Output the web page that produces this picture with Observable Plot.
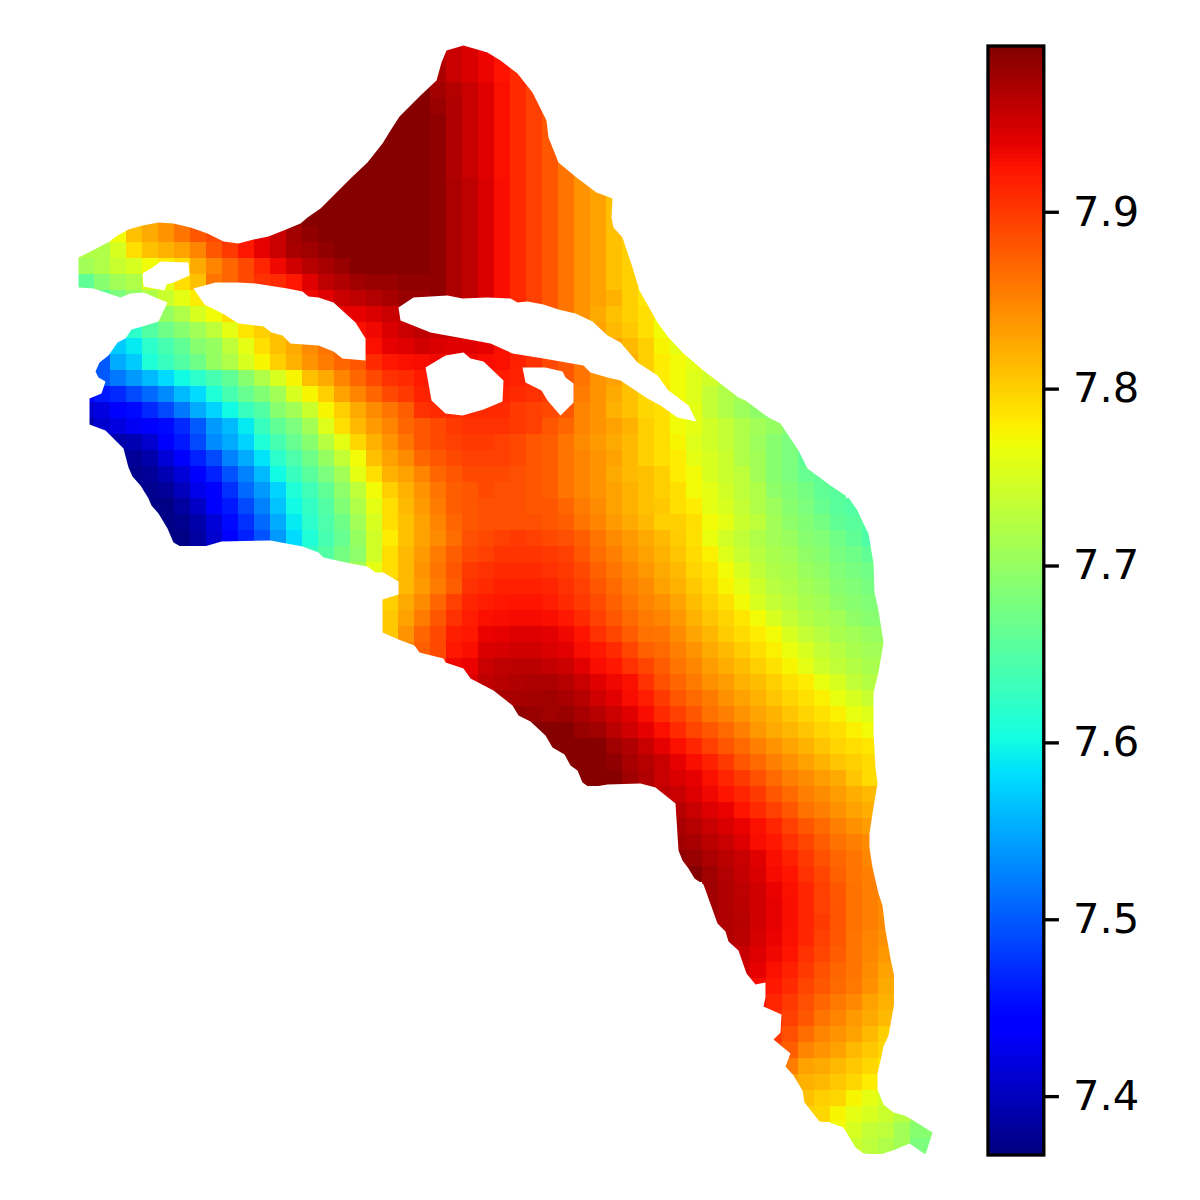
<!DOCTYPE html>
<html>
<head>
<meta charset="utf-8">
<script src="https://cdn.jsdelivr.net/npm/d3@7"></script>
<script src="https://cdn.jsdelivr.net/npm/@observablehq/plot@0.6"></script>
<style>
html,body{margin:0;padding:0;background:#fff}
#chart{display:flex;width:1200px;height:1200px}
#chart svg{display:block;flex:none}
</style>
</head>
<body>
<div id="chart"></div>
<script>
// Colour-bar range and ticks
const valueDomain = [7.367, 7.994];
const barTicks = [7.4, 7.5, 7.6, 7.7, 7.8, 7.9];

// First grid column of each grid row
const rowStart = [22,22,21,20,19,18,17,17,16,15,14,3,2,0,0,0,1,4,2,1,1,1,0,0,0,1,2,3,3,4,5,5,13,16,19,19,19,19,20,22,24,25,26,27,29,30,31,35,37,37,37,37,38,39,39,39,40,41,41,42,42,43,43,43,44,44,45,45,47,48];

// Field values per grid row (hundredths above 7)
const rowValues = [
[96,95.5,94.5,93.5,92.5,91.5],
[96.5,95.5,94.5,93.5,92.5,91,89.5],
[98,97,95.5,94.5,93.5,92.5,91,89,88],
[99,99,97.5,96.5,95.5,94.2,92.7,91,89.5,88],
[99,99,99,98,96.8,95.5,94.2,92.7,91,89.5,88],
[99,99,99,99,98.5,96.8,95.5,94.2,92.7,91,89.5,88,86],
[99,99,99,99,99,98.5,96.8,95.5,94.2,92.7,91,89.5,88,86],
[99,99,99,99,99,98.5,96.8,95.5,94.2,92.7,91,89.5,88,86],
[99,99,99,99,99,99,98.5,96.8,95.5,94.2,92.7,91,89.5,88,86,84],
[99,99,99,99,99,99,99,98.5,97,96,94.5,92.9,91,89.5,88,86,84,83],
[99,99,99,99,99,99,99,99,98.5,97,96,94.5,92.9,91,89.5,88,86,84,83,81],
[81,82.5,84,86,88,89,90,92,94,96,98,99,99,99,99,99,99,99,99,98.5,97,96,94.5,92.9,91,89.5,88,86,84,83,81],
[77,81,82.5,84,86,88,89,90,92,94,95.5,97.5,98.5,99,99,99,99,99,99,99,98.5,97,96,94.5,92.9,91,89.5,88,86,84,83,81,80],
[72,72,75,79,81,82,83,85,88,90,92.2,93.8,95.5,97.2,97.6,98.5,99,99,99,99,99,99,98.5,97,96,94.5,92.9,91,89.5,88,86,84,83,81,80],
[71,72,74,75,77,78,79,82.5,85,87,89,91.3,93.3,95,96.4,97.2,98,99,99,99,99,99,98.5,97,96,94.5,92.9,91,89.5,88,86,84,83,81,80,78],
[66,69,71,72,75,76,79,81,86,87,89,90.5,91,92.2,94.2,96,96.8,97.6,98,98,98.5,98.5,98.5,97,96,94.5,92.9,91,89.5,88,86,84,83,81,80,78],
[66,68,70,72,74,76,78,79,85,88,90,91,92,93.3,94.2,95.5,96,96.6,97.2,98,98,98.5,97,96,94.5,92.9,91,89.5,88,86,84,83,82,80,78.5,77],
[70,70,72,75,77,79,85,88,90,92,93,93.5,93.8,93.8,94.5,95.5,95.5,96,95.5,95.5,94.5,93.5,92.7,91,89,88,86,84,82.5,81,80,79,77],
[60,62,65,67,69,71,73,76,78.5,80,81,83,85,88,90,92.7,93.3,94.5,95.5,96,95.5,95.5,94.5,93.5,92.7,91,89,88,86,84,83,81.5,80.5,79,77,76],
[55,57,59,62,64,66,69,70,73,76,79,81,82.5,84.5,86,87,90,92.7,93.8,94.2,95,94.5,94.2,94.2,93.8,92.7,91.7,90,89,87,85,84,83,81.5,80,77.5,76,75],
[50,55,57,61,63,65,67,70,72,75,77.5,80,82,84,85.5,87,88,91,92.2,92.7,92.9,93.3,93.3,93.3,92.9,92.7,91.6,90.5,89,88,86,84.5,83,82,80,78,77,76],
[50,52,54,56,58,60,62,64,66,69,72,75,77.5,81,82.5,85,87,89,90.5,91,92,92,92,92,92,92,91.5,91,90,88,86,84,83,81,80,78,77,75.5,74.5,73],
[44,46,47,49,51,53,56,58,61,64,66.5,68.5,71,75,77.5,80,83,85,87,89,90,91.5,91.5,91.5,91.5,91.5,91.5,91,90.5,90,88,85.5,84,82.5,81,79.5,78.5,77,75.5,73.5,72,71],
[41,42,44,45,47,49,52,55,57.5,60,63,65,69,71,74,77.5,80,82.5,84.5,86,87.5,90.5,91,91,91,91,91,90,89.5,89,88,85,84,82,81,79.5,79,77,76,73.5,72,70.5,69.5,68.5],
[39,41,42,43,44,45,47,50,54,56,59,63,66,68,71,75.5,79,81.5,83.5,85,87,88,89,90,90.5,90.5,90.5,90,89.5,88,87,85,84,83,82,80,79,77,76,74.5,73.5,72,71,70,69],
[39,39,39.5,41,44,46,49,53,55,57.5,61,64,66.5,69,72.5,76,79.5,82,84,86,88,89,89.5,90,90,89.5,89,88,87.5,86,84.5,83.5,82.5,81.5,80,79,77.5,75.5,74.5,73.5,72,70.5,69,68],
[38,38,39,41.5,43.5,46.5,49,52.5,55,58.5,62,64.5,67,70,73.5,77,81,83,84.5,87,88,89,89.5,89.5,89.5,89,88,87.5,86,85,84,83,81.5,80,79,78,76,75,74,72,71,69,68,66],
[37.5,38,39.5,41.5,44.5,46.5,49.5,52.5,56,60,63,65.5,68,71,76,79,82,83,85,87,88,89,89,89,88.5,88,87.5,86,85,84,82.5,81.5,81,80,78,77,75,74,73,71,69,68,66.5,66],
[37.5,37.5,38,40,42.5,44.5,47.5,51,54,57.5,61,63.5,66,69.5,73,77,80,82,84,86,87.5,88,89,88.5,88.5,88,87.5,86,85,84,83,82,81,80,79,77,76,74.5,73,72,69.5,68.5,67.5,66,65.5],
[37,37,38.5,40.5,43.5,46,49,52.5,56.5,60,62.5,65,68.5,72,76,79,81.5,83.5,85.5,87.5,88,88.5,88.5,88.5,88,88,87,85.5,84.5,83,82,81,80.5,79,78,76,75,73.5,72,70.5,69,68,66.5,65.5,65],
[37,37.5,39,41.5,45,47.5,51,55,59,62,64.5,67,71,75,79,81,83,85,87,88,88.5,88.5,88.5,88.5,88,87.5,86,85,83.5,82.5,81.5,80,80,79,77,76,74,73,71,69.5,68.5,67.5,66,65.5,65],
[37,37,38.5,41,44,46.5,49.5,54,58,61,64,66.5,70,74.5,78,81,83,84.5,86.5,88.5,89,89.5,90,89.5,89,88.5,87.5,86,84.5,83.5,82.5,81.5,80.2,78.8,76.5,74.6,73.3,72,70.9,70.2,69,68.4,67.2,66,64.7],
[61,62.5,65,67.5,69.5,74.5,79,81.5,83.5,85.5,87.5,89,89.5,90.3,90.3,90.3,90,89.5,88,86.5,85.3,84,83,82,80.7,79.2,77.8,75.6,73.8,72.6,71.5,70.9,69.6,69,67.8,67,66],
[69,71,76,79,81.5,84,86,88,90,90.5,91,91,91,90.5,90,89,87.4,86,84.8,83.7,82.5,81.5,79.7,78.7,77,75,73.3,72,71.5,70.2,69.6,68.4,67.8,67.2],
[80,81.5,83.5,85.5,87.5,90.5,91,91.6,91.6,91.6,91.3,90.5,89.5,88,86.7,85.3,84.5,83,82,80.5,79.2,77.5,76,74.3,72.6,72,70.9,70.2,69,68.4,67.8,67.5],
[80,82.5,84.5,87,89.5,91.3,91.9,92.2,92.4,92.4,91.9,91,90,88.8,87.4,86,85,84.2,82.9,81.2,80,78.8,77.1,75,73.5,72.6,71.5,70.9,69.6,69,68.4,68],
[80.5,83,85.5,88,90.5,91.9,92.7,92.9,93,93,92.8,92.2,91,89.5,88,86.7,85.6,85,83.7,82,80.7,79.7,78.4,77,75,73.5,72.4,71.5,70.9,69.6,69,69],
[80.5,84,87,89,91.7,92.2,93.6,93.8,94.3,94.3,94,93.3,92.4,90.5,89.2,87.7,86.2,86,84.5,82.9,81.7,80.2,79.2,78,77,75,73.5,72.6,71.5,70.9,70.2,70],
[85,87.5,89,92.2,92.8,94.5,94.7,95,95,94.5,94,92.9,92.2,91,89.2,87.4,86.7,85.3,84,82.5,81.5,80.2,79,77.8,76.5,75,73.5,72.6,71.5,70.9,71],
[90,93.3,93.6,95.5,96,96.2,96.2,95.7,95.2,94,92.9,92.2,90.5,89.2,87.7,86,84.8,83.4,82.2,81.2,80,78.8,77.5,76,74.3,73.3,72.4,71.5,71.5],
[94.5,96,96.4,96.8,97,97,96.4,95.5,94.2,93.3,92.7,90.5,88.4,87,85.6,84.2,83.4,82,81.2,80,78.8,78,76.3,75,73.3,72.4],
[97,97.2,97.2,97.4,97.6,97.2,96.4,95,94,92.9,91.9,89.9,88,86.7,85.6,84.2,83,82,80.7,79.7,78.8,77.8,76.3,75,73.8],
[98,98.5,98,97.6,98,97.2,96.4,95.2,94.2,92.9,91,89.5,88,86.2,85.3,84,82.9,82,80.7,79.7,78.8,77.8,76.3,75.6],
[99,99,99,99,98,97.6,96.2,95,93.8,92.7,91,89.2,88,86.7,85.3,83.7,82.5,81.7,80.7,79.7,79,77.8,77],
[99,99,99,99,97.6,96.8,95.5,93.8,92.7,91.3,89.5,88,86.7,85.3,84,82.9,82,80.7,79.7,79,78.4],
[99,99,99,98.5,97.2,96.4,95.5,93.8,92.8,91.6,89.9,88,86.7,85.3,84.2,83,82,80.7,80,79.2],
[99,99,99,97.6,96.8,95.5,94.5,93.8,92.7,91.3,89.9,88.4,86.7,85.3,84.5,83.4,82.5,80.7,79.2],
[96,96,95.5,94.3,93.3,92.4,91.3,89.9,88,86.7,85.3,84.5,83.4,82.2,81.5],
[96.4,95.5,94.3,93.6,92.4,91,89.5,88,86.2,85.3,84.2,83,82.2],
[97.2,96.4,95.5,94.5,93.6,92.7,91.3,89.5,88,86.7,85.3,84.2,83.4],
[97.6,97.2,96.2,95.5,94.3,92.9,92.2,90.5,89.2,87.7,86.2,85.3,84.5],
[98.5,98,97,96.2,95.5,94.2,92.8,91.6,90,88.4,87,86,84.8],
[99,97.6,96.6,95.7,94.5,93,92.4,90.5,89.2,87.4,86,85.3,84.5],
[97.6,96.8,96,95,93.6,92.7,91.3,89.5,88,86.2,85.3,84.8],
[97.6,96.8,96.2,95,93.8,92.8,91.3,89.5,88.2,86.2,85.3,84.5],
[97.2,96.8,96.4,95,93.8,92.8,91.3,89.9,88.2,86.2,85.3,84.5],
[96.8,96.2,94.8,93.6,92.7,91.3,89.5,88,86,85,84.2],
[95.5,94.3,93.3,92.4,90.5,89.2,87.7,86,84.8,83.7],
[95,93.8,92.7,91.6,90,88.4,87,86,84.5,83],
[93,92.2,91,89.2,88,86.7,85.7,84.2,82.5],
[92.5,91.3,90,88.5,87,85.7,84.7,83,82],
[91,89.5,88,86,85,83.5,82.5,81.5],
[90,88.5,86.5,85,84,83,81.5,80],
[89,87.5,85,84,83,81.5,80.5,79.5],
[85.5,83,82.5,81.5,80.5,79.5,78.5],
[83,82,81.5,80.5,79.5,78],
[81,80,79.5,77.5,76,74.5],
[80,79.5,77.5,76,75,74,72.5,70],
[77,75,73.5,73,71,69,69],
[74,73,72,71,68,68]
];

// Outer outline of the mapped area, in chart units
const outlineX = [463,446,441,436,420,413,399,390,382,367,350,335,320,307,300,288,268,253,238,223,207,190,173,158,142,128,117,109,94,78,78,93,120,130,143,167,158,142,131,125,117,108,99,95,98,105,101,89,89,105,123,128,132,140,148,151,158,167,173,180,204,221,270,302,318,323,350,367,375,383,398,398,382,382,398,414,419,443,445,463,470,493,512,518,530,545,552,564,570,577,582,589,607,640,655,675,678,682,688,694,703,717,725,728,738,746,755,765,765,763,781,780,773,790,785,793,802,804,819,832,843,855,863,880,895,909,925,932,913,904,893,883,877,877,880,883,888,893,895,894,890,885,882,878,872,869,869,872,877,875,873,873,878,883,878,874,873,868,863,857,848,830,807,798,780,768,745,738,703,683,668,657,639,632,622,613,611,612,596,576,558,548,546,532,517,500,487];
const outlineY = [45,50,62,80,95,102,116,130,143,162,178,193,208,217,223,228,236,239,243,241,233,227,223,222,225,229,235,241,249,257,287,288,297,293,292,302,321,326,329,338,342,355,362,371,377,381,393,398,424,430,448,467,476,485,498,505,513,528,542,546,546,541,540,546,552,557,563,566,572,572,581,594,599,632,639,645,652,658,662,668,678,690,705,715,721,735,747,754,765,770,782,787,784,783,787,803,850,860,868,878,884,923,931,941,950,973,984,982,997,1006,1014,1032,1039,1053,1066,1075,1090,1102,1121,1123,1127,1147,1153,1154,1149,1143,1154,1132,1120,1115,1112,1104,1089,1073,1060,1046,1035,1007,993,977,958,930,905,893,867,847,833,813,783,767,733,692,672,642,610,592,563,533,523,510,497,485,468,450,423,417,400,397,370,353,337,322,290,267,237,227,217,198,192,177,162,137,120,92,73,60,52];

// Holes inside the mapped area, in chart units
const holeAX = [142,152,160,188,189,173,166,164,143];
const holeAY = [273,267,261,262,275,282,284,290,286];
const holeBX = [193,215,237,255,287,302,308,318,333,355,365,365,342,333,318,290,282,271,263,238,222,204];
const holeBY = [288,282,282,283,288,291,296,297,302,322,338,360,358,351,345,343,335,332,326,323,313,304];
const holeCX = [398,413,430,447,462,487,510,517,527,543,558,575,592,607,620,637,657,668,688,696,677,660,647,620,607,590,583,560,543,512,490,463,430,420,400];
const holeCY = [307,297,296,295,298,297,298,302,301,304,309,313,321,335,342,362,375,390,405,421,417,405,398,380,377,372,365,361,358,353,343,338,332,328,320];
const holeDX = [425,445,463,470,483,503,502,483,462,445,431,428];
const holeDY = [367,355,352,358,361,380,401,409,415,413,400,383];
const holeEX = [522,545,562,565,573,573,560,547,541,525];
const holeEY = [367,367,371,377,383,402,415,400,390,382];

// Grid set-up
const gridLeft = 78, gridTop = 34, cellSize = 16;

const jetR = d3.scaleLinear([0,.35,.66,.89,1],[0,0,1,1,.5]).clamp(true);
const jetG = d3.scaleLinear([0,.125,.375,.64,.91,1],[0,0,1,1,0,0]).clamp(true);
const jetB = d3.scaleLinear([0,.11,.34,.65,1],[.5,1,1,0,0]).clamp(true);
const jet = (t) => `rgb(${Math.round(255*jetR(t))},${Math.round(255*jetG(t))},${Math.round(255*jetB(t))})`;
const colorScale = {type:"linear", domain:valueDomain, interpolate:jet, clamp:true};

const cells = rowValues.flatMap((vals,row) => vals.map((v,k) => ({col:rowStart[row]+k, row, value:7+v/100})));

const outlinePts = outlineX.map((x,i) => ({x, y:outlineY[i], loop:"outside"}));
const maskPts = [[0,0],[960,0],[960,1200],[0,1200],[0,0]].map(([x,y]) => ({x,y,loop:"outside"}))
  .concat(outlinePts, [outlinePts[0], {x:0,y:0,loop:"outside"}]);
const holes = [["A",holeAX,holeAY],["B",holeBX,holeBY],["C",holeCX,holeCY],["D",holeDX,holeDY],["E",holeEX,holeEY]]
  .flatMap(([id,xs,ys]) => xs.map((x,i) => ({x, y:ys[i], loop:id})));

const field = Plot.plot({
  width:960, height:1200, margin:0,
  style:{background:"white"},
  x:{domain:[0,960], range:[0,960], axis:null},
  y:{domain:[0,1200], range:[0,1200], axis:null},
  color:colorScale,
  marks:[
    Plot.rect(cells,{
      x1:d => gridLeft + d.col*cellSize, x2:d => gridLeft + (d.col+1)*cellSize,
      y1:d => gridTop + d.row*cellSize, y2:d => gridTop + (d.row+1)*cellSize,
      fill:"value", shapeRendering:"crispEdges"
    }),
    Plot.line(maskPts.concat(holes),{x:"x", y:"y", z:"loop", fill:"white", stroke:"none"})
  ]
});

const n = 256;
const levels = d3.range(n).map(k => ({
  lo:valueDomain[0]+k*(valueDomain[1]-valueDomain[0])/n,
  hi:valueDomain[0]+(k+1)*(valueDomain[1]-valueDomain[0])/n
}));

const bar = Plot.plot({
  width:240, height:1200,
  marginLeft:27.5, marginRight:156.7, marginTop:45.5, marginBottom:45.5,
  style:{background:"white"},
  y:{domain:valueDomain},
  color:colorScale,
  marks:[
    Plot.rect(levels,{y1:"lo", y2:"hi", fill:d => (d.lo+d.hi)/2, shapeRendering:"crispEdges"}),
    Plot.frame({stroke:"black", strokeWidth:3.33}),
    Plot.axisY({anchor:"right", ticks:barTicks, tickFormat:".1f", tickSize:14.6, tickPadding:14.6,
      fontSize:41.67, fontFamily:"DejaVu Sans", strokeWidth:3.33, stroke:"black", fill:"black", label:null})
  ]
});

document.getElementById("chart").append(field, bar);
</script>
</body>
</html>
